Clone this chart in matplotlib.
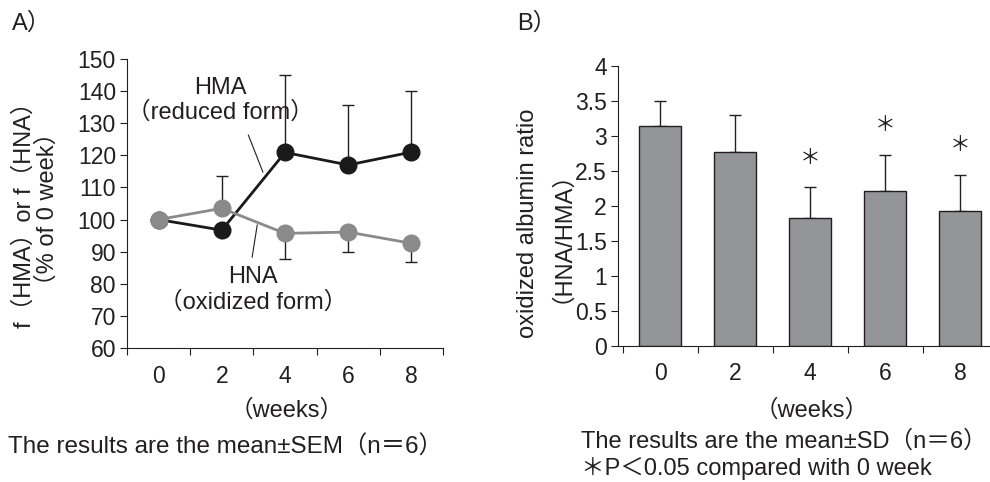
import numpy as np
import matplotlib
matplotlib.use('Agg')
from matplotlib import pyplot as plt

plt.rcParams['font.family'] = ['Liberation Sans', 'Noto Sans CJK JP']

weeks = ['0', '2', '4', '6', '8']

# panel A: % of 0 week
hma = [100, 96.7, 120.9, 117.0, 121.0]
hna = [100, 103.5, 95.7, 96.1, 92.6]
hma_err_up = [0, 0, 24.0, 18.6, 19.0]
hna_err_up = [0, 10.0, 0, 0, 0]
hna_err_low = [0, 0, 7.9, 6.2, 5.7]

# panel B: oxidized albumin ratio
ratio = [3.14, 2.76, 1.83, 2.21, 1.93]
ratio_sd = [0.35, 0.53, 0.43, 0.52, 0.51]
signif = [False, False, True, True, True]

ink = '#231f20'
x = np.arange(len(weeks))
tfs = 16.5   # tick labels
fs = 17      # other text

fig = plt.figure(figsize=(9.9, 4.82), dpi=100)

# ---- A) ----
ax1 = fig.add_axes([0.1283, 0.278, 0.3192, 0.5996])
ax1.errorbar(x, hma, yerr=[np.zeros(5), hma_err_up], fmt='none', ecolor=ink,
             elinewidth=1, capsize=4, capthick=1, zorder=1)
ax1.errorbar(x, hna, yerr=[hna_err_low, hna_err_up], fmt='none', ecolor=ink,
             elinewidth=1, capsize=4, capthick=1, zorder=1)
ax1.plot(x, hma, color='#1a1a1a', lw=2, marker='o', ms=12, zorder=3)
ax1.plot(x, hna, color='#8a8a8a', lw=2, marker='o', ms=12, zorder=4)
ax1.set_xlim(-0.5, 4.5)
ax1.set_ylim(60, 150)
ax1.set_yticks(range(60, 151, 10))
ax1.set_xticks(np.arange(-0.5, 4.6, 1))
ax1.set_xticklabels([])
ax1.set_xticks(x, minor=True)
ax1.set_xticklabels(weeks, minor=True)
ax1.tick_params(axis='x', which='minor', length=0, pad=12, labelsize=tfs, labelcolor=ink)
ax1.tick_params(axis='x', which='major', direction='out', length=5, color=ink)
ax1.tick_params(axis='y', direction='out', length=5, pad=3, labelsize=tfs, labelcolor=ink, color=ink)
for s in ['top', 'right']:
    ax1.spines[s].set_visible(False)
for s in ['left', 'bottom']:
    ax1.spines[s].set_color(ink)

ax1.text(0.98, 141, 'HMA', ha='center', va='center', fontsize=fs, color=ink)
ax1.text(0.98, 133.2, '（reduced form）', ha='center', va='center', fontsize=fs, color=ink)
ax1.plot([1.42, 1.65], [126.3, 114.8], color=ink, lw=0.8)
ax1.text(1.5, 82.1, 'HNA', ha='center', va='center', fontsize=fs, color=ink)
ax1.text(1.5, 74.3, '（oxidized form）', ha='center', va='center', fontsize=fs, color=ink)
ax1.plot([1.56, 1.48], [98.3, 88.3], color=ink, lw=0.8)

fig.text(0.012, 0.952, 'A）', fontsize=fs, color=ink, va='center')
fig.text(0.025, 0.566, 'f（HMA）or f（HNA）', rotation=90, ha='center', va='center',
         fontsize=fs, color=ink)
fig.text(0.0475, 0.566, '（% of 0 week）', rotation=90, ha='center', va='center',
         fontsize=fs, color=ink)
fig.text(0.29, 0.149, '（weeks）', ha='center', va='center', fontsize=fs, color=ink)
fig.text(0.008, 0.073, 'The results are the mean±SEM（n＝6）', ha='left', va='center',
         fontsize=17.5, color=ink)

# ---- B) ----
ax2 = fig.add_axes([0.6242, 0.2828, 0.3838, 0.5809])
ax2.bar(x, ratio, width=0.56, color='#949598', edgecolor=ink, linewidth=1, zorder=2)
ax2.errorbar(x, ratio, yerr=[np.zeros(5), ratio_sd], fmt='none', ecolor=ink,
             elinewidth=1, capsize=4, capthick=1, zorder=1)
for i in range(len(x)):
    if signif[i]:
        ax2.text(x[i], ratio[i] + ratio_sd[i] + 0.42, '＊', ha='center', va='center',
                 fontsize=15, color=ink)
ax2.set_xlim(-0.563, 4.5)
ax2.set_ylim(0, 4)
ax2.set_yticks([0, 0.5, 1, 1.5, 2, 2.5, 3, 3.5, 4])
ax2.set_yticklabels(['0', '0.5', '1', '1.5', '2', '2.5', '3', '3.5', '4'])
ax2.set_xticks(np.arange(-0.5, 4.6, 1))
ax2.set_xticklabels([])
ax2.set_xticks(x, minor=True)
ax2.set_xticklabels(weeks, minor=True)
ax2.tick_params(axis='x', which='minor', length=0, pad=12, labelsize=tfs, labelcolor=ink)
ax2.tick_params(axis='x', which='major', direction='out', length=5, color=ink)
ax2.tick_params(axis='y', direction='out', length=5, pad=3, labelsize=tfs, labelcolor=ink, color=ink)
for s in ['top', 'right']:
    ax2.spines[s].set_visible(False)
for s in ['left', 'bottom']:
    ax2.spines[s].set_color(ink)

fig.text(0.522, 0.952, 'B）', fontsize=fs, color=ink, va='center')
fig.text(0.533, 0.536, 'oxidized albumin ratio', rotation=90, ha='center', va='center',
         fontsize=fs, color=ink)
fig.text(0.556, 0.533, '（HNA/HMA）', rotation=90, ha='center', va='center',
         fontsize=fs, color=ink)
fig.text(0.82, 0.149, '（weeks）', ha='center', va='center', fontsize=fs, color=ink)
fig.text(0.587, 0.083, 'The results are the mean±SD（n＝6）', ha='left', va='center',
         fontsize=17, color=ink)
fig.text(0.587, 0.028, '＊P＜0.05 compared with 0 week', ha='left', va='center',
         fontsize=17, color=ink)

fig.savefig('out.png', dpi=100)
